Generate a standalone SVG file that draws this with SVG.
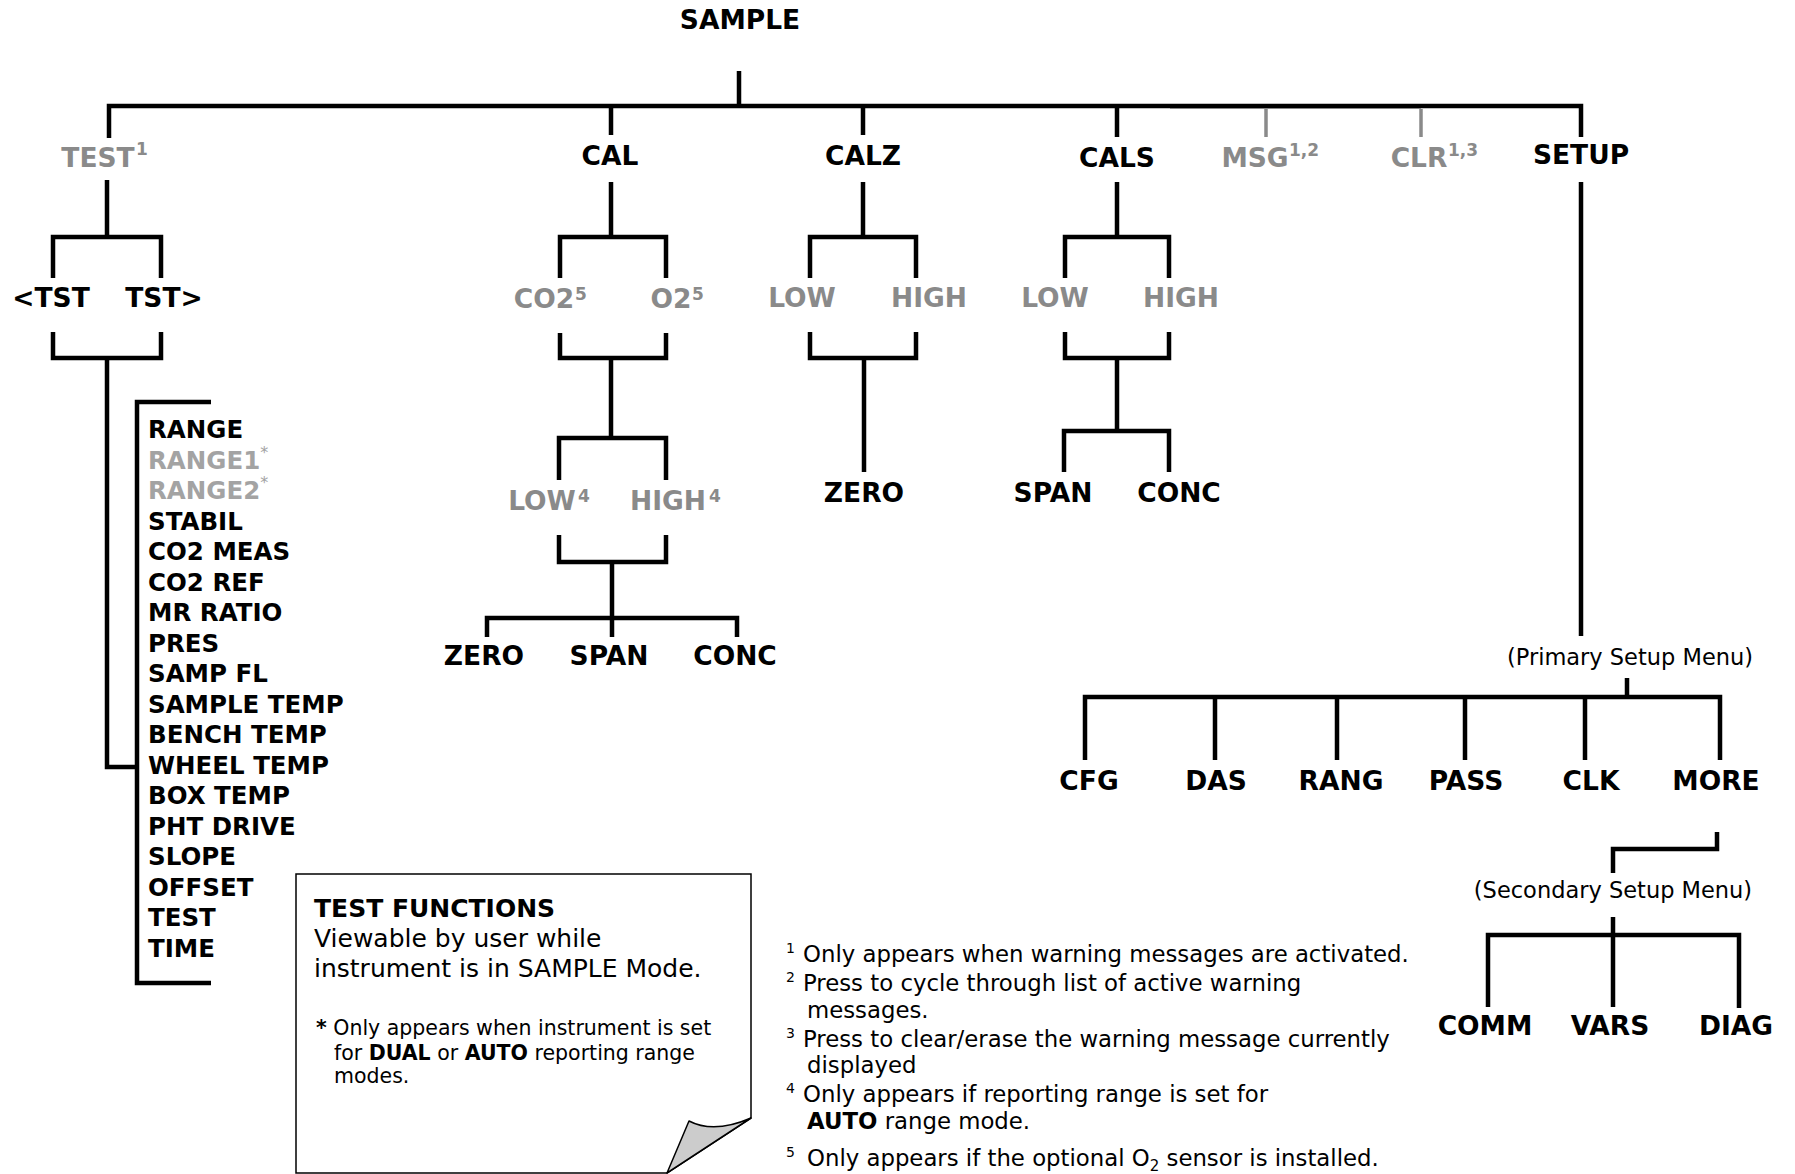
<svg xmlns="http://www.w3.org/2000/svg" width="1795" height="1174" viewBox="0 0 1795 1174">
<style>
text{font-family:"DejaVu Sans","Liberation Sans",sans-serif;fill:#000}
.n{font-weight:bold;font-size:26.5px;text-anchor:middle}
.g{fill:#8a8a8a}
.lg{fill:#a3a3a3}
.sup{font-weight:bold;font-size:17px}
.li{font-weight:bold;font-size:24.5px}
.m{font-size:22.5px;text-anchor:middle}
.f{font-size:22.8px}
.fs{font-size:14px}
.b{font-size:25px}
.s{font-size:20.5px}
.ln{stroke:#000;stroke-width:4.5;fill:none;stroke-linejoin:miter}
.gl{stroke:#8a8a8a;stroke-width:3.5;fill:none}
</style>
<g id="connectors">
<path d="M1170,108.5 H1421" stroke="#b5b5b5" stroke-width="1" fill="none"/>
<path class="ln" d="M739,71 V106 M109,138 V106 H1581 V137 M611,106 V135 M863,106 V135 M1117,106 V137"/>
<path class="gl" d="M1266,109 V137 M1421,109 V137"/>
<path class="ln" d="M107,180 V237 M53,278 V237 H161 V278 M53,332 V358 H161 V332 M107,358 V767 H137 M211,402 H137 V983 H211"/>
<path class="ln" d="M611,182 V237 M560,278 V237 H666 V278 M560,333 V358 H666 V333 M611,358 V438 M559,480 V438 H666 V480 M559,535 V562 H666 V535 M612,562 V618 M487,637 V618 H737 V637 M612,618 V637"/>
<path class="ln" d="M863,182 V237 M810,278 V237 H916 V278 M810,332 V358 H916 V332 M864,358 V472"/>
<path class="ln" d="M1117,182 V237 M1065,278 V237 H1169 V278 M1065,332 V358 H1169 V332 M1117,358 V431 M1064,472 V431 H1169 V472"/>
<path class="ln" d="M1581,182 V636 M1627,678 V697 M1085,760 V697 H1720 V760 M1215,697 V760 M1337,697 V760 M1465,697 V760 M1585,697 V760 M1717,832 V849 H1613 V873 M1613,917 V1007 M1488,1007 V935 H1739 V1008"/>
</g>
<g id="sample"><text class="n" x="740" y="29">SAMPLE</text></g>
<g id="test"><text class="n g" x="98" y="167">TEST</text><text class="sup g" x="136" y="155">1</text></g>
<g id="cal"><text class="n" x="610" y="165">CAL</text></g>
<g id="calz"><text class="n" x="863" y="165">CALZ</text></g>
<g id="cals"><text class="n" x="1117" y="167">CALS</text></g>
<g id="msg"><text class="n g" x="1255" y="167">MSG</text><text class="sup g" x="1289" y="156">1,2</text></g>
<g id="clr"><text class="n g" x="1419" y="167">CLR</text><text class="sup g" x="1448" y="156">1,3</text></g>
<g id="setup"><text class="n" x="1581" y="164">SETUP</text></g>
<g id="tst-prev"><text class="n" x="51" y="307">&lt;TST</text></g>
<g id="tst-next"><text class="n" x="164" y="307">TST&gt;</text></g>
<g id="test-list">
<text class="li" x="148" y="438">RANGE</text>
<text class="li lg" x="148" y="468.5">RANGE1<tspan dy="-11" style="font-weight:normal;font-size:16px">*</tspan></text>
<text class="li lg" x="148" y="499">RANGE2<tspan dy="-11" style="font-weight:normal;font-size:16px">*</tspan></text>
<text class="li" x="148" y="529.5">STABIL</text>
<text class="li" x="148" y="560">CO2 MEAS</text>
<text class="li" x="148" y="590.5">CO2 REF</text>
<text class="li" x="148" y="621">MR RATIO</text>
<text class="li" x="148" y="651.5">PRES</text>
<text class="li" x="148" y="682">SAMP FL</text>
<text class="li" x="148" y="712.5">SAMPLE TEMP</text>
<text class="li" x="148" y="743">BENCH TEMP</text>
<text class="li" x="148" y="773.5">WHEEL TEMP</text>
<text class="li" x="148" y="804">BOX TEMP</text>
<text class="li" x="148" y="834.5">PHT DRIVE</text>
<text class="li" x="148" y="865">SLOPE</text>
<text class="li" x="148" y="895.5">OFFSET</text>
<text class="li" x="148" y="926">TEST</text>
<text class="li" x="148" y="956.5">TIME</text>
</g>
<g id="cal-co2"><text class="n g" x="544" y="308">CO2</text><text class="sup g" x="575" y="300">5</text></g>
<g id="cal-o2"><text class="n g" x="671" y="308">O2</text><text class="sup g" x="692" y="300">5</text></g>
<g id="cal-low"><text class="n g" x="542" y="510">LOW</text><text class="sup g" x="578" y="502">4</text></g>
<g id="cal-high"><text class="n g" x="668" y="510">HIGH</text><text class="sup g" x="709" y="502">4</text></g>
<g id="cal-zero"><text class="n" x="484" y="665">ZERO</text></g>
<g id="cal-span"><text class="n" x="609" y="665">SPAN</text></g>
<g id="cal-conc"><text class="n" x="735" y="665">CONC</text></g>
<g id="calz-low"><text class="n g" x="802" y="307">LOW</text></g>
<g id="calz-high"><text class="n g" x="929" y="307">HIGH</text></g>
<g id="calz-zero"><text class="n" x="864" y="502">ZERO</text></g>
<g id="cals-low"><text class="n g" x="1055" y="307">LOW</text></g>
<g id="cals-high"><text class="n g" x="1181" y="307">HIGH</text></g>
<g id="cals-span"><text class="n" x="1053" y="502">SPAN</text></g>
<g id="cals-conc"><text class="n" x="1179" y="502">CONC</text></g>
<g id="primary-menu"><text class="m" x="1630" y="665">(Primary Setup Menu)</text></g>
<g id="cfg"><text class="n" x="1089" y="790">CFG</text></g>
<g id="das"><text class="n" x="1216" y="790">DAS</text></g>
<g id="rang"><text class="n" x="1341" y="790">RANG</text></g>
<g id="pass"><text class="n" x="1466" y="790">PASS</text></g>
<g id="clk"><text class="n" x="1591" y="790">CLK</text></g>
<g id="more"><text class="n" x="1716" y="790">MORE</text></g>
<g id="secondary-menu"><text class="m" x="1613" y="898">(Secondary Setup Menu)</text></g>
<g id="comm"><text class="n" x="1485" y="1035">COMM</text></g>
<g id="vars"><text class="n" x="1610" y="1035">VARS</text></g>
<g id="diag"><text class="n" x="1736" y="1035">DIAG</text></g>
<g id="note">
<path d="M296,874 H751 V1118 L667,1173 H296 Z" fill="#fff" stroke="#000" stroke-width="1.5"/>
<path d="M689,1121 Q714,1134 751,1118 L667,1173 Z" fill="#cccccc" stroke="#000" stroke-width="1.5" stroke-linejoin="round"/>
<text class="b" x="314" y="917" style="font-weight:bold">TEST FUNCTIONS</text>
<text class="b" x="314" y="947">Viewable by user while</text>
<text class="b" x="314" y="977">instrument is in SAMPLE Mode.</text>
<text class="s" x="316" y="1035"><tspan style="font-weight:bold">*</tspan> Only appears when instrument is set</text>
<text class="s" x="334" y="1060">for <tspan style="font-weight:bold">DUAL</tspan> or <tspan style="font-weight:bold">AUTO</tspan> reporting range</text>
<text class="s" x="334" y="1083">modes.</text>
</g>
<g id="footnotes">
<text class="fs" x="786" y="953">1</text><text class="f" x="803" y="962">Only appears when warning messages are activated.</text>
<text class="fs" x="786" y="982">2</text><text class="f" x="803" y="991">Press to cycle through list of active warning</text>
<text class="f" x="807" y="1018">messages.</text>
<text class="fs" x="786" y="1038">3</text><text class="f" x="803" y="1047">Press to clear/erase the warning message currently</text>
<text class="f" x="807" y="1073">displayed</text>
<text class="fs" x="786" y="1093">4</text><text class="f" x="803" y="1102">Only appears if reporting range is set for</text>
<text class="f" x="807" y="1129"><tspan style="font-weight:bold">AUTO</tspan> range mode.</text>
<text class="fs" x="786" y="1157">5</text><text class="f" x="807" y="1166">Only appears if the optional O<tspan font-size="15" dy="5">2</tspan><tspan dy="-5"> sensor is installed.</tspan></text>
</g>
</svg>
